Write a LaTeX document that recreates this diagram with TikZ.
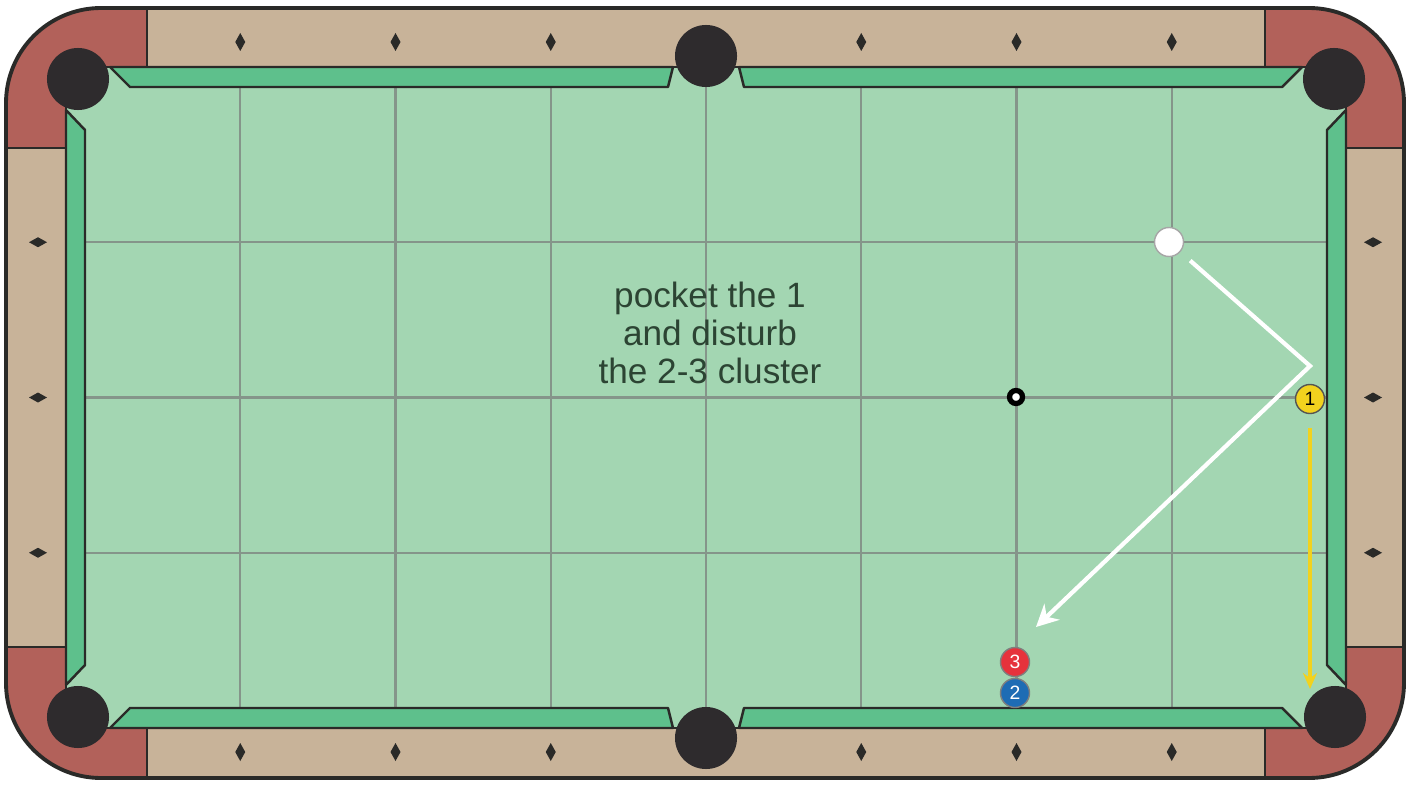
\documentclass[tikz,border=0pt]{standalone}
\usepackage{fontspec}
\setsansfont{Liberation Sans}
\usetikzlibrary{arrows.meta, positioning, calc}
\definecolor{feltgreen}{HTML}{A3D6B2}
\definecolor{cushgreen}{HTML}{5EC08C}
\definecolor{railtan}{HTML}{C8B399}
\definecolor{cornerred}{HTML}{B2615A}
\definecolor{pocketblk}{HTML}{2E2B2D}
\definecolor{edgedark}{HTML}{2A2A28}
\definecolor{gridgray}{HTML}{85958A}
\definecolor{notegreen}{HTML}{2C4433}
\definecolor{ballyellow}{HTML}{F2D21E}
\definecolor{ballred}{HTML}{E6323C}
\definecolor{ballblue}{HTML}{1E6CB4}

\begin{document}
\begin{tikzpicture}[
    x=0.01cm, y=-0.01cm,
    edge/.style={draw=edgedark, line width=0.7pt},
    cushion/.style={edge, fill=cushgreen, line join=round},
    pocket/.style={circle, fill=pocketblk, minimum size=0.62cm, inner sep=0pt},
    ball/.style={circle, draw=edgedark!60, line width=0.4pt, minimum size=0.29cm, inner sep=0pt, font=\sffamily\fontsize{5.5}{6}\selectfont},
    gridline/.style={gridgray, line width=0.6pt},
    shot/.style={-{Stealth[length=2.2mm, width=2.2mm]}, white, line width=1.2pt},
    roll/.style={-{Stealth[length=1.6mm, width=1.4mm]}, ballyellow, line width=0.9pt},
    note/.style={font=\sffamily\fontsize{10}{10.9}\selectfont, text=notegreen, align=center},
]
\useasboundingbox (0,0) rectangle (1412,785);
\fill[white] (0,0) rectangle (1412,785);

% rails and corner blocks
\fill[railtan, rounded corners=0.95cm] (6,8) rectangle (1404,778);
\begin{scope}
  \clip[rounded corners=0.95cm] (6,8) rectangle (1404,778);
  \filldraw[fill=cornerred, edge] (0,0) -- (147,0) -- (147,67) -- (66,67) -- (66,148) -- (0,148) -- cycle;
  \filldraw[fill=cornerred, edge] (1412,0) -- (1265,0) -- (1265,67) -- (1346,67) -- (1346,148) -- (1412,148) -- cycle;
  \filldraw[fill=cornerred, edge] (0,785) -- (147,785) -- (147,728) -- (66,728) -- (66,647) -- (0,647) -- cycle;
  \filldraw[fill=cornerred, edge] (1412,785) -- (1265,785) -- (1265,728) -- (1346,728) -- (1346,647) -- (1412,647) -- cycle;
\end{scope}
\draw[edge, line width=1.1pt, rounded corners=0.95cm] (6,8) rectangle (1404,778);

% cloth
\filldraw[fill=feltgreen, edge] (66,67) rectangle (1346,728);
\foreach \gx in {1,...,7}
  \draw[gridline] ({85+155.25*\gx},87) -- ++(0,621);
\foreach \gy in {1,2,3}
  \draw[gridline] (85,{87+155.25*\gy}) -- ++(1242,0);

% diamonds
\foreach \gx in {1,...,7} {
  \fill[edgedark] ({85+155.25*\gx},42) +(0,-9) -- +(5,0) -- +(0,9) -- +(-5,0) -- cycle;
  \fill[edgedark] ({85+155.25*\gx},752) +(0,-9) -- +(5,0) -- +(0,9) -- +(-5,0) -- cycle;
}
\foreach \gy in {1,2,3} {
  \fill[edgedark] (38,{87+155.25*\gy}) +(-9,0) -- +(0,5) -- +(9,0) -- +(0,-5) -- cycle;
  \fill[edgedark] (1373,{87+155.25*\gy}) +(-9,0) -- +(0,5) -- +(9,0) -- +(0,-5) -- cycle;
}

% cushions
\draw[cushion] (110,67) -- (673,67) -- (668,87) -- (130,87) -- cycle;
\draw[cushion] (739,67) -- (1302,67) -- (1282,87) -- (744,87) -- cycle;
\draw[cushion] (110,728) -- (673,728) -- (668,708) -- (130,708) -- cycle;
\draw[cushion] (739,728) -- (1302,728) -- (1282,708) -- (744,708) -- cycle;
\draw[cushion] (66,110) -- (85,130) -- (85,665) -- (66,685) -- cycle;
\draw[cushion] (1346,110) -- (1327,130) -- (1327,665) -- (1346,685) -- cycle;

% pockets
\node[pocket] (pTL) at (78,79) {};
\node[pocket] (pTR) at (1334,79) {};
\node[pocket] (pBL) at (78,717) {};
\node[pocket] (pBR) at (1335,717) {};
\node[pocket] (pTS) at (706,56) {};
\node[pocket] (pBS) at (706,738) {};

\node[note] (task) at (710,333) {pocket the 1\\and disturb\\the 2-3 cluster};

\node[circle, draw=black, fill=white, line width=1.5pt, minimum size=0.13cm, inner sep=0pt] (spot) at (1016,397) {};

% balls
\node[ball, fill=white, draw=gray!70] (cue) at (1169,242) {};
\node[ball, fill=ballyellow, draw=edgedark!80] (one) at (1310,399) {1};
\node[ball, fill=ballred, text=white] (three) at (1015,662) {3};
\node[ball, fill=ballblue, text=white] (two) at (1015,693) {2};

% shot lines
\coordinate (rail) at (1310,366);
\coordinate (aim) at (1036,627);
\coordinate (drop) at (1310,689);
\draw[shot, shorten <=0.13cm] (cue) -- (rail) -- (aim);
\draw[roll, shorten <=0.14cm] (one) -- (drop);
\end{tikzpicture}
\end{document}
